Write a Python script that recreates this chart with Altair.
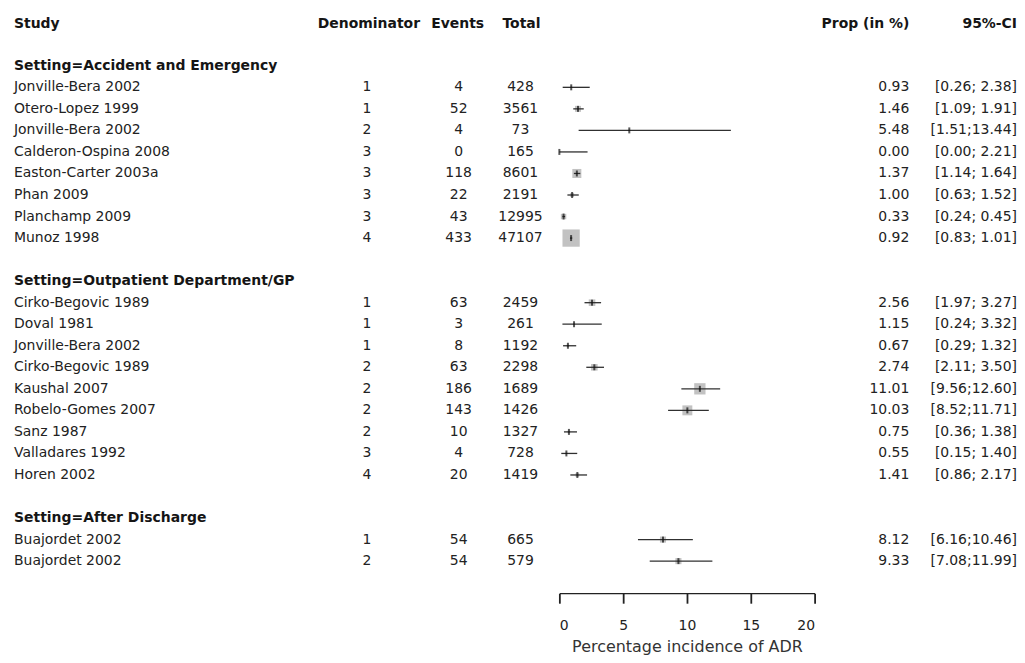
import altair as alt
import pandas as pd

group_names = ["Accident and Emergency", "Outpatient Department/GP", "After Discharge"]
settings = ["Accident and Emergency"] * 8 + ["Outpatient Department/GP"] * 9 + ["After Discharge"] * 2
studies = [
    "Jonville-Bera 2002", "Otero-Lopez 1999", "Jonville-Bera 2002", "Calderon-Ospina 2008",
    "Easton-Carter 2003a", "Phan 2009", "Planchamp 2009", "Munoz 1998",
    "Cirko-Begovic 1989", "Doval 1981", "Jonville-Bera 2002", "Cirko-Begovic 1989",
    "Kaushal 2007", "Robelo-Gomes 2007", "Sanz 1987", "Valladares 1992", "Horen 2002",
    "Buajordet 2002", "Buajordet 2002",
]
denominators = [1, 1, 2, 3, 3, 3, 3, 4, 1, 1, 1, 2, 2, 2, 2, 3, 4, 1, 2]
events = [4, 52, 4, 0, 118, 22, 43, 433, 63, 3, 8, 63, 186, 143, 10, 4, 20, 54, 54]
totals = [428, 3561, 73, 165, 8601, 2191, 12995, 47107, 2459, 261, 1192, 2298, 1689, 1426,
          1327, 728, 1419, 665, 579]
props = [0.93, 1.46, 5.48, 0.00, 1.37, 1.00, 0.33, 0.92, 2.56, 1.15, 0.67, 2.74, 11.01, 10.03,
         0.75, 0.55, 1.41, 8.12, 9.33]
lower = [0.26, 1.09, 1.51, 0.00, 1.14, 0.63, 0.24, 0.83, 1.97, 0.24, 0.29, 2.11, 9.56, 8.52,
         0.36, 0.15, 0.86, 6.16, 7.08]
upper = [2.38, 1.91, 13.44, 2.21, 1.64, 1.52, 0.45, 1.01, 3.27, 3.32, 1.32, 3.50, 12.60, 11.71,
         1.38, 1.40, 2.17, 10.46, 11.99]
x_ticks = [0, 5, 10, 15, 20]

# build row layout (group header, studies, blank line)
study_rows, group_rows = [], []
r = 0
for g in group_names:
    group_rows.append({"label": "Setting=" + g, "row": r})
    r += 1
    for i, s in enumerate(settings):
        if s == g:
            study_rows.append({
                "study": studies[i], "denom": str(denominators[i]), "events": str(events[i]),
                "total": str(totals[i]), "prop": props[i], "lower": lower[i], "upper": upper[i],
                "w": events[i], "row": r,
                "prop_txt": f"{props[i]:.2f}",
                "ci_txt": f"[{lower[i]:.2f};{upper[i]:.2f}]" if upper[i] >= 10 else f"[{lower[i]:.2f};  {upper[i]:.2f}]",
            })
            r += 1
    r += 1

df = pd.DataFrame(study_rows)
gdf = pd.DataFrame(group_rows)
hdf = pd.DataFrame([{"row": -1.95}])

FONT = "DejaVu Sans"
FS = 14
TXT = "#222222"
yscale = alt.Scale(domain=[0, 23], range=[57, 553.8], nice=False, zero=False)
xscale = alt.Scale(domain=[0, 20], range=[553, 809], nice=False, zero=False)
Y = alt.Y("row:Q", scale=yscale, axis=None)

ci = alt.Chart(df).mark_rule(color="#303030", strokeWidth=1.3).encode(
    x=alt.X("lower:Q", scale=xscale,
            axis=alt.Axis(values=x_ticks, tickSize=10, domainColor="#222222", tickColor="#222222",
                          domainWidth=1.3, tickWidth=1.8, labelFont=FONT, labelFontSize=14,
                          labelColor="#222222", labelPadding=15, grid=False,
                          title="Percentage incidence of ADR", titleFont=FONT, titleFontSize=16,
                          titleFontWeight="normal", titleColor="#333333", titlePadding=6)),
    x2="upper:Q",
    y=Y,
)
boxes = alt.Chart(df).mark_point(shape="square", filled=True, color="#c2c2c2", opacity=1).encode(
    x=alt.X("prop:Q", scale=xscale),
    y=Y,
    size=alt.Size("w:Q", scale=alt.Scale(domain=[0, 433], range=[0, 300]), legend=None),
)
marker = alt.Chart(df).mark_tick(orient="vertical", size=6, thickness=2, color="#111111").encode(
    x=alt.X("prop:Q", scale=xscale),
    y=Y,
)

def col(field, x, align, weight="normal"):
    return alt.Chart(df).mark_text(align=align, baseline="middle", font=FONT, fontSize=FS,
                                   fontWeight=weight, color=TXT).encode(
        x=alt.value(x), y=Y, text=f"{field}:N")

texts = [
    col("study", 6, "left"),
    col("denom", 360, "center"),
    col("events", 452, "center"),
    col("total", 514, "center"),
    col("prop_txt", 904, "right"),
    col("ci_txt", 1012, "right"),
]

groups = alt.Chart(gdf).mark_text(align="left", baseline="middle", font=FONT, fontSize=FS,
                                  fontWeight="bold", color="#151515").encode(
    x=alt.value(6), y=Y, text="label:N")

def header(label, x, align):
    return alt.Chart(hdf).mark_text(align=align, baseline="middle", font=FONT, fontSize=FS,
                                    fontWeight="bold", color="#151515", text=label).encode(
        x=alt.value(x), y=Y)

headers = [
    header("Study", 6, "left"),
    header("Denominator", 362, "center"),
    header("Events", 451, "center"),
    header("Total", 515, "center"),
    header("Prop (in %)", 904, "right"),
    header("95%-CI", 1012, "right"),
]

chart = alt.layer(boxes, ci, marker, groups, *texts, *headers).properties(
    width=1009, height=586, padding=0, background="white"
).configure_view(stroke=None)

chart.save("out.html", embed_options={"renderer": "svg", "actions": False})
